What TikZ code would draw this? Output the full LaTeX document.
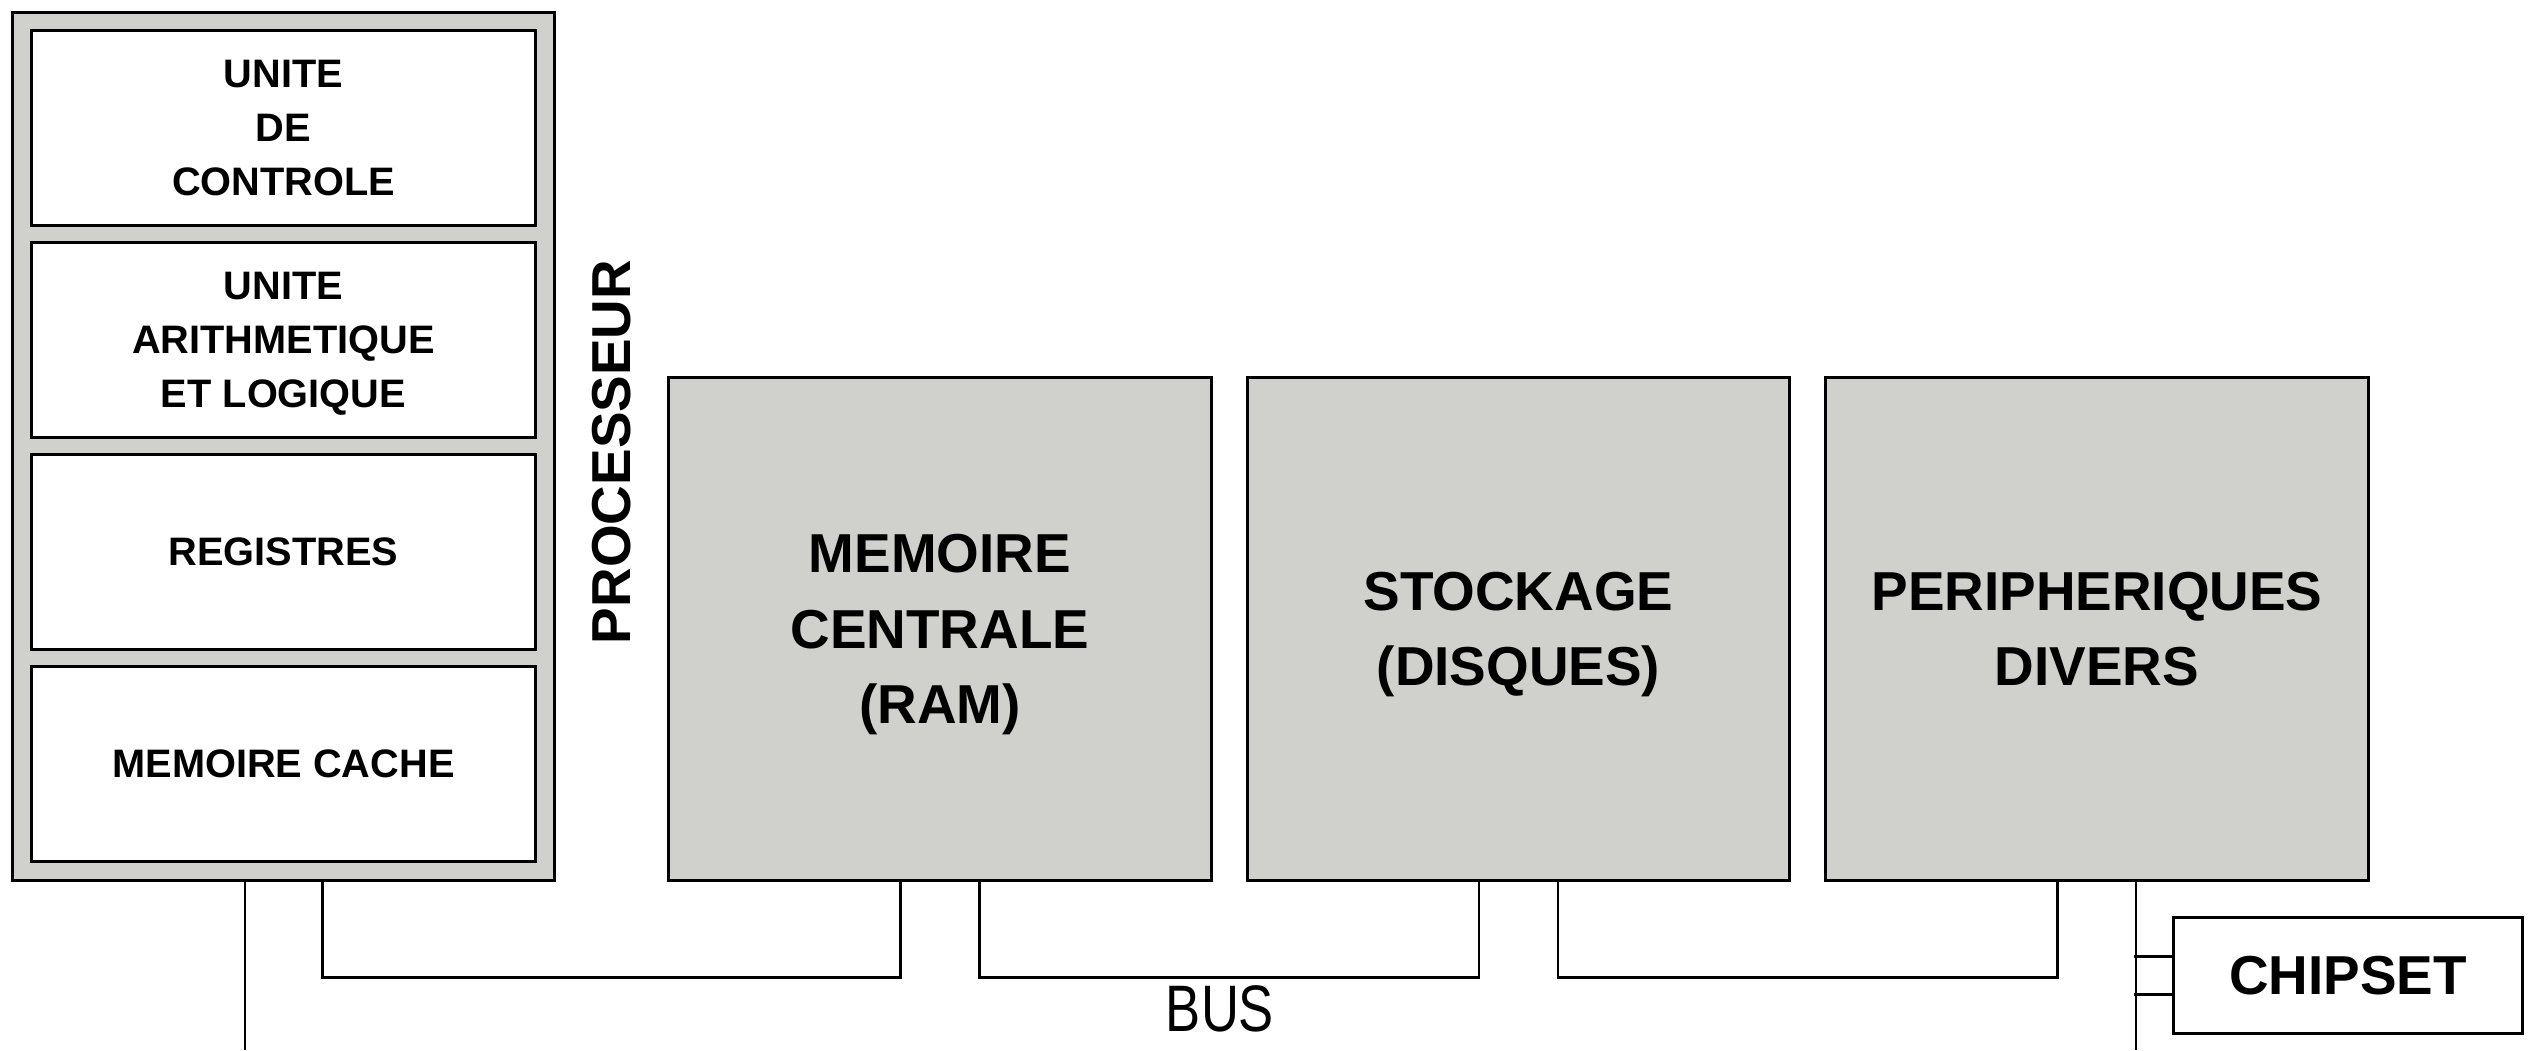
\documentclass[tikz,border=0pt]{standalone}
\usepackage{fontspec}
\setmainfont{Liberation Sans}
\newfontfamily\busfont{Liberation Sans}[FakeStretch=0.8]
\definecolor{boxgray}{RGB}{208,209,204}
\begin{document}
\begin{tikzpicture}[x=0.01cm,y=-0.01cm,
  unit/.style={draw,line width=0.85pt,fill=white,minimum width=5.03cm,minimum height=1.94cm,inner sep=0pt,text depth=0pt,align=center,font=\fontsize{11.3}{15.4}\selectfont\bfseries},
  bloc/.style={draw,line width=0.85pt,fill=boxgray,minimum width=5.42cm,minimum height=5.02cm,inner sep=0pt,text depth=0pt,align=center,font=\fontsize{15.6}{21.5}\selectfont\bfseries},
  bus/.style={line width=0.75pt}]
 \useasboundingbox (0,0) rectangle (2541,1050);
 \node[draw,line width=0.85pt,fill=boxgray,minimum width=5.41cm,minimum height=8.67cm,inner sep=0pt] (cpu) at (283.5,446.5) {};
 \node[unit] (uc) at (283.5,128) {UNITE\\DE\\CONTROLE};
 \node[unit] (ual) at (283.5,340) {UNITE\\ARITHMETIQUE\\ET LOGIQUE};
 \node[unit] (reg) at (283.5,552) {REGISTRES};
 \node[unit] (cache) at (283.5,764) {MEMOIRE CACHE};
 \node[rotate=90,font=\fontsize{15.6}{21.5}\selectfont\bfseries] (cpulabel) at (612,452) {PROCESSEUR};
 \node[bloc] (ram) at (940,629) {MEMOIRE\\CENTRALE\\(RAM)};
 \node[bloc] (disk) at (1518.5,629) {STOCKAGE\\(DISQUES)};
 \node[bloc] (periph) at (2097,629) {PERIPHERIQUES\\DIVERS};
 \node[draw,line width=0.85pt,fill=white,minimum width=3.48cm,minimum height=1.15cm,inner sep=0pt,font=\fontsize{15.6}{21.5}\selectfont\bfseries] (chipset) at (2348,975.5) {CHIPSET};
 \node[font=\busfont\fontsize{18.7}{22}\selectfont] (buslabel) at (1220,1009) {BUS};
 \coordinate (cpuend) at (245,1050);
 \coordinate (periphend) at (2136,1050);
 \draw[bus] (cpu.south -| cpuend) -- (cpuend);
 \draw[bus] ([xshift=-2.33cm]cpu.south east) -- ++(0,96) -| ([xshift=2.33cm]ram.south west);
 \draw[bus] ([xshift=-2.33cm]ram.south east) -- ++(0,96) -| ([xshift=2.33cm]disk.south west);
 \draw[bus] ([xshift=-2.33cm]disk.south east) -- ++(0,96) -| ([xshift=2.33cm]periph.south west);
 \draw[bus] (periph.south -| periphend) -- (periphend);
 \draw[bus] ([yshift=0.19cm]chipset.west) -- ++(-38,0);
 \draw[bus] ([yshift=-0.19cm]chipset.west) -- ++(-38,0);
\end{tikzpicture}
\end{document}
